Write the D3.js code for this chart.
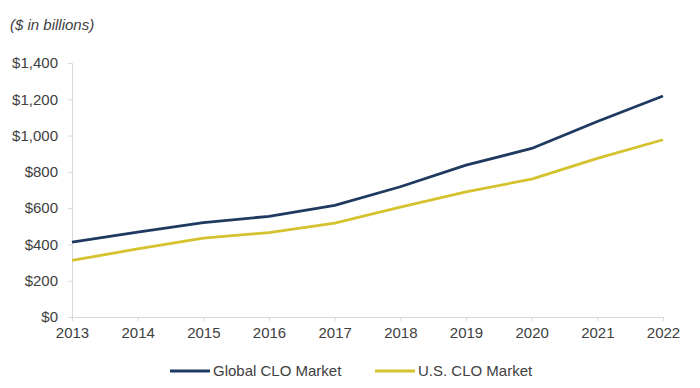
<!DOCTYPE html>
<html>
<head>
<meta charset="utf-8">
<script src="https://cdn.jsdelivr.net/npm/d3@7"></script>
<style>
  body { margin: 0; background: #fff; }
  svg text { font-family: "Liberation Sans", Arial, sans-serif; fill: #404040; }
</style>
</head>
<body>
<div id="chart"></div>
<script>
const years = [2013, 2014, 2015, 2016, 2017, 2018, 2019, 2020, 2021, 2022];
const globalClo = [413, 468, 520, 555, 615, 718, 837, 929, 1078, 1218];
const usClo = [312, 375, 435, 465, 518, 605, 690, 760, 874, 977];
const yTicks = [0, 200, 400, 600, 800, 1000, 1200, 1400];

const width = 700, height = 388;
const margin = {top: 63, right: 37, bottom: 71, left: 72};

const svg = d3.select("#chart").append("svg")
    .attr("width", width)
    .attr("height", height);

const x = d3.scalePoint()
    .domain(years)
    .range([margin.left, width - margin.right]);

const y = d3.scaleLinear()
    .domain([0, 1400])
    .range([height - margin.bottom, margin.top]);

// title
svg.append("text")
    .attr("x", 10)
    .attr("y", 30)
    .style("font-size", "15px")
    .style("font-style", "italic")
    .text("($ in billions)");

// y axis
const yAxis = svg.append("g")
    .attr("transform", `translate(${margin.left},0)`)
    .call(d3.axisLeft(y).tickValues(yTicks).tickSize(4).tickPadding(10)
        .tickFormat(d => "$" + d3.format(",")(d)));
yAxis.selectAll("text").style("font-size", "15px");

// x axis
const xAxis = svg.append("g")
    .attr("transform", `translate(0,${y(0)})`)
    .call(d3.axisBottom(x).tickSize(4).tickPadding(6).tickSizeOuter(0));
xAxis.selectAll("text").style("font-size", "15px");

svg.selectAll(".domain, .tick line").attr("stroke", "#d9d9d9");

const line = d3.line()
    .x((d, i) => x(years[i]))
    .y(d => y(d));

svg.append("path")
    .datum(usClo)
    .attr("fill", "none")
    .attr("stroke", "#d4c22e")
    .attr("stroke-width", 2.8)
    .attr("stroke-linejoin", "round")
    .attr("d", line);

svg.append("path")
    .datum(globalClo)
    .attr("fill", "none")
    .attr("stroke", "#1f3a60")
    .attr("stroke-width", 2.8)
    .attr("stroke-linejoin", "round")
    .attr("d", line);

// legend
const legend = [
    {name: "Global CLO Market", color: "#1f3a60", x: 170},
    {name: "U.S. CLO Market", color: "#d4c22e", x: 375}
];
const lg = svg.selectAll(".legend").data(legend).join("g")
    .attr("transform", d => `translate(${d.x},371)`);
lg.append("line")
    .attr("x1", 0).attr("x2", 40)
    .attr("stroke", d => d.color)
    .attr("stroke-width", 2.8);
lg.append("text")
    .attr("x", 43)
    .attr("dy", "0.35em")
    .style("font-size", "15px")
    .text(d => d.name);
</script>
</body>
</html>
